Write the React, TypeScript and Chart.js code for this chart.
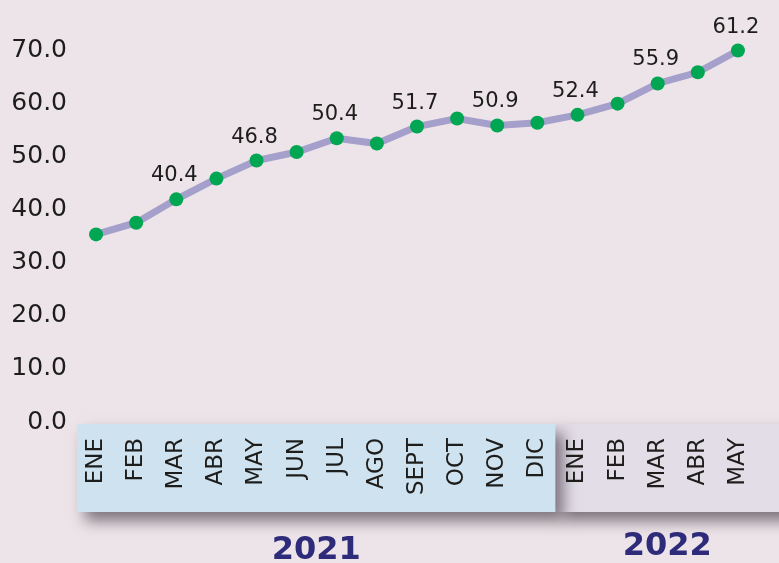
import React, { useEffect, useRef } from "react";
import { Chart, registerables } from "chart.js";

Chart.register(...registerables);

const months = ["ENE", "FEB", "MAR", "ABR", "MAY", "JUN", "JUL", "AGO", "SEPT", "OCT", "NOV", "DIC", "ENE", "FEB", "MAR", "ABR", "MAY"];
const values = [35.3, 37.5, 41.9, 45.8, 49.2, 50.8, 53.4, 52.4, 55.6, 57.1, 55.8, 56.3, 57.8, 59.9, 63.7, 65.8, 69.9];
const pointLabels = [null, null, "40.4", null, "46.8", null, "50.4", null, "51.7", null, "50.9", null, "52.4", null, "55.9", null, "61.2"];
const years = ["2021", "2022"];

const FONT = "'DejaVu Sans', sans-serif";
const BG = "#ede4e9";

const decorPlugin = {
  id: "decor",
  beforeDraw(chart: any) {
    const { ctx, width, height, chartArea } = chart;
    const x = chart.scales.x;
    ctx.save();
    ctx.fillStyle = BG;
    ctx.fillRect(0, 0, width, height);
    const step = x.getPixelForValue(1) - x.getPixelForValue(0);
    const left = x.getPixelForValue(0) - step / 2 + 1;
    const mid = (x.getPixelForValue(11) + x.getPixelForValue(12)) / 2 - 2;
    const top = chartArea.bottom + 2;
    const bottom = 512;
    ctx.shadowColor = "rgba(50,40,50,0.6)";
    ctx.shadowBlur = 14;
    ctx.shadowOffsetX = 8;
    ctx.shadowOffsetY = 9;
    ctx.fillStyle = "#e3dde8";
    ctx.fillRect(mid, top, width - mid + 20, bottom - top);
    ctx.fillStyle = "#cfe2ef";
    ctx.fillRect(left, top, mid - left, bottom - top);
    ctx.restore();

    ctx.save();
    ctx.fillStyle = "#2e2b7a";
    ctx.font = `bold 32px ${FONT}`;
    ctx.textAlign = "center";
    ctx.textBaseline = "middle";
    ctx.fillText(years[0], (left + mid) / 2, 551);
    ctx.fillText(years[1], (mid + width) / 2, 547);
    ctx.restore();
  },
  afterDatasetsDraw(chart: any) {
    const { ctx } = chart;
    const meta = chart.getDatasetMeta(0);
    ctx.save();
    ctx.fillStyle = "#1d1d1b";
    ctx.font = `21px ${FONT}`;
    ctx.textAlign = "center";
    ctx.textBaseline = "alphabetic";
    meta.data.forEach((pt: any, i: number) => {
      const lbl = pointLabels[i];
      if (lbl) ctx.fillText(lbl, pt.x - 2, pt.y - 18);
    });
    ctx.restore();
  },
};

export default function App() {
  const ref = useRef<HTMLCanvasElement>(null);
  useEffect(() => {
    if (!ref.current) return;
    const chart = new Chart(ref.current, {
      type: "line",
      data: {
        labels: months,
        datasets: [
          {
            data: values,
            borderColor: "#a59fcb",
            borderWidth: 7,
            pointBackgroundColor: "#00a651",
            pointBorderWidth: 0,
            pointRadius: 7,
            tension: 0,
            clip: false as any,
          },
        ],
      },
      options: {
        animation: false,
        responsive: true,
        maintainAspectRatio: false,
        layout: { padding: { top: 50, right: 21, left: 0, bottom: 0 } },
        plugins: { legend: { display: false }, tooltip: { enabled: false } },
        scales: {
          x: {
            offset: true,
            grid: { display: false, drawTicks: false },
            border: { display: false },
            ticks: {
              color: "#1d1d1b",
              font: { family: FONT, size: 23 },
              minRotation: 90,
              maxRotation: 90,
              padding: 16,
              autoSkip: false,
            },
            afterFit(scale: any) {
              scale.height = 141;
              scale.paddingLeft = 0;
              scale.paddingRight = 0;
            },
          },
          y: {
            min: 0,
            max: 70,
            grid: { display: false, drawTicks: false },
            border: { display: false },
            ticks: {
              stepSize: 10,
              color: "#1d1d1b",
              font: { family: FONT, size: 25 },
              padding: 9,
              callback: (v: any) => Number(v).toFixed(1),
            },
            afterFit(scale: any) {
              scale.width = 76;
            },
          },
        },
      },
      plugins: [decorPlugin],
    });
    return () => chart.destroy();
  }, []);
  return (
    <div style={{ position: "fixed", left: 0, top: 0, width: "100vw", height: "100vh", background: BG }}>
      <canvas ref={ref} />
    </div>
  );
}
